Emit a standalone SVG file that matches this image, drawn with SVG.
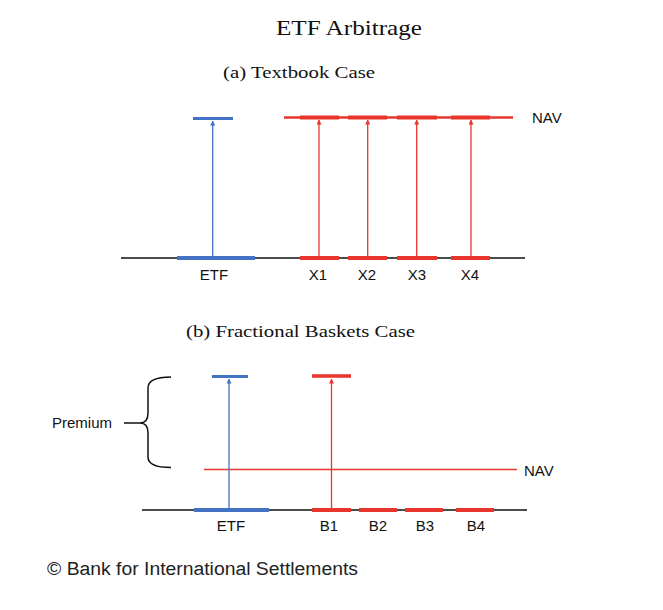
<svg xmlns="http://www.w3.org/2000/svg" width="663" height="610" viewBox="0 0 663 610">
<defs>
<style>
.serif{font-family:"Liberation Serif","DejaVu Serif",serif;fill:#111}
.lbl{font-family:"Liberation Sans",Arial,sans-serif;font-size:15px;fill:#111}
.base{stroke:#111;stroke-width:1.5;fill:none}
.blue{stroke:#4472C4;fill:none}
.red{stroke:#E8362D;fill:none}
.arrB{stroke:#4472C4;stroke-width:1.3;fill:none;marker-end:url(#mB)}
.arrR{stroke:#E8362D;stroke-width:1.3;fill:none;marker-end:url(#mR)}
</style>
<marker id="mB" viewBox="0 0 10 10" refX="9" refY="5" markerWidth="5" markerHeight="5" orient="auto" markerUnits="userSpaceOnUse"><path d="M0,0 L10,5 L0,10 z" fill="#4472C4"/></marker>
<marker id="mR" viewBox="0 0 10 10" refX="9" refY="5" markerWidth="5" markerHeight="5" orient="auto" markerUnits="userSpaceOnUse"><path d="M0,0 L10,5 L0,10 z" fill="#E8362D"/></marker>
</defs>
<rect width="663" height="610" fill="#fff"/>

<g id="titles">
<text class="serif" x="349" y="35" font-size="22" text-anchor="middle" textLength="146" lengthAdjust="spacingAndGlyphs">ETF Arbitrage</text>
<text class="serif" x="223" y="78" font-size="17" textLength="152" lengthAdjust="spacingAndGlyphs">(a) Textbook Case</text>
<text class="serif" x="186" y="337" font-size="17" textLength="229" lengthAdjust="spacingAndGlyphs">(b) Fractional Baskets Case</text>
</g>

<!-- Panel (a) -->
<g id="a-axis">
<line class="base" x1="121" y1="258" x2="525" y2="258"/>
</g>
<g id="a-etf">
<line class="blue" x1="177" y1="258" x2="255" y2="258" stroke-width="4"/>
<line class="blue" x1="193" y1="118.5" x2="233" y2="118.5" stroke-width="3"/>
<text class="lbl" x="214" y="280" text-anchor="middle">ETF</text>
</g>
<g id="a-nav">
<line class="red" x1="284" y1="117.5" x2="513" y2="117.5" stroke-width="2.5"/>
<text class="lbl" x="532" y="123">NAV</text>
</g>
<g id="a-x1">
<line class="red" x1="300" y1="258" x2="339" y2="258" stroke-width="4"/>
<line class="red" x1="300" y1="117.5" x2="339" y2="117.5" stroke-width="4"/>
<text class="lbl" x="318" y="280" text-anchor="middle">X1</text>
</g>
<g id="a-x2">
<line class="red" x1="348" y1="258" x2="387" y2="258" stroke-width="4"/>
<line class="red" x1="348" y1="117.5" x2="387" y2="117.5" stroke-width="4"/>
<text class="lbl" x="367" y="280" text-anchor="middle">X2</text>
</g>
<g id="a-x3">
<line class="red" x1="397" y1="258" x2="437" y2="258" stroke-width="4"/>
<line class="red" x1="397" y1="117.5" x2="437" y2="117.5" stroke-width="4"/>
<text class="lbl" x="417" y="280" text-anchor="middle">X3</text>
</g>
<g id="a-x4">
<line class="red" x1="451" y1="258" x2="490" y2="258" stroke-width="4"/>
<line class="red" x1="451" y1="117.5" x2="490" y2="117.5" stroke-width="4"/>
<text class="lbl" x="470" y="280" text-anchor="middle">X4</text>
</g>

<!-- Panel (b) -->
<g id="b-axis">
<line class="base" x1="142" y1="510" x2="527" y2="510"/>
</g>
<g id="b-etf">
<line class="blue" x1="194" y1="510" x2="269" y2="510" stroke-width="4"/>
<line class="blue" x1="212" y1="376.5" x2="248" y2="376.5" stroke-width="3"/>
<text class="lbl" x="231" y="531" text-anchor="middle">ETF</text>
</g>
<g id="b-nav">
<line class="red" x1="204" y1="469.5" x2="517" y2="469.5" stroke-width="1.5"/>
<text class="lbl" x="524" y="476">NAV</text>
</g>
<g id="b-b1">
<line class="red" x1="312" y1="510" x2="351" y2="510" stroke-width="4"/>
<line class="red" x1="312" y1="376" x2="351" y2="376" stroke-width="3.5"/>
<text class="lbl" x="329" y="531" text-anchor="middle">B1</text>
</g>
<g id="b-b2">
<line class="red" x1="359" y1="510" x2="397" y2="510" stroke-width="4"/>
<text class="lbl" x="378" y="531" text-anchor="middle">B2</text>
</g>
<g id="b-b3">
<line class="red" x1="405" y1="510" x2="443" y2="510" stroke-width="4"/>
<text class="lbl" x="425" y="531" text-anchor="middle">B3</text>
</g>
<g id="b-b4">
<line class="red" x1="456" y1="510" x2="494" y2="510" stroke-width="4"/>
<text class="lbl" x="476" y="531" text-anchor="middle">B4</text>
</g>
<g id="premium">
<path class="base" stroke-width="1.3" d="M124,423 L140,423 Q148,423 148,413 L148,388 Q148,377 171,377 M140,423 Q148,423 148,433 L148,457 Q148,467.5 171,467.5"/>
<text class="lbl" x="52" y="428">Premium</text>
</g>

<g id="connectors">
<line class="arrB" x1="212.7" y1="256" x2="212.7" y2="121"/>
<line class="arrR" x1="319" y1="256" x2="319" y2="120"/>
<line class="arrR" x1="367.7" y1="256" x2="367.7" y2="120"/>
<line class="arrR" x1="416.7" y1="256" x2="416.7" y2="120"/>
<line class="arrR" x1="471" y1="256" x2="471" y2="120"/>
<line class="arrB" x1="229" y1="508" x2="229" y2="379"/>
<line class="arrR" x1="331.5" y1="508" x2="331.5" y2="379"/>
</g>

<g id="footer">
<text x="47" y="575" font-family="'Liberation Sans',Arial,sans-serif" font-size="18" fill="#222" textLength="311" lengthAdjust="spacingAndGlyphs">© Bank for International Settlements</text>
</g>
</svg>
